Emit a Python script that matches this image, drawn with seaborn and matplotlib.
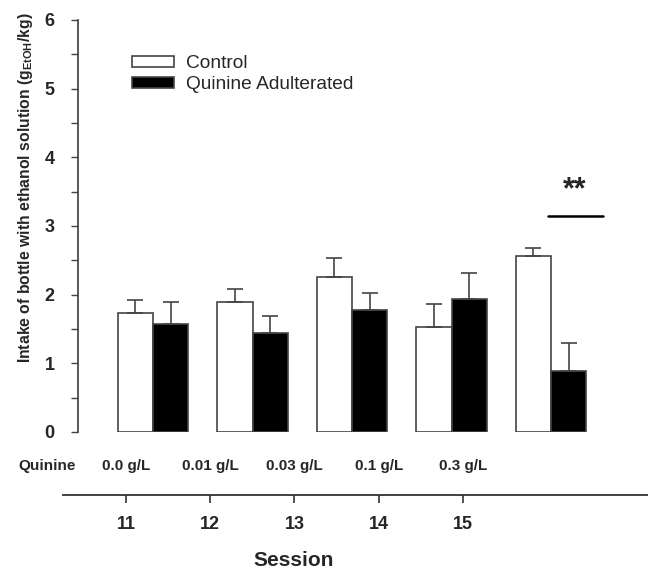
"""Ethanol intake across quinine sessions: control vs quinine adulterated."""

import matplotlib
matplotlib.use("Agg")
import matplotlib.pyplot as plt
import matplotlib.transforms as mtransforms
import seaborn as sns
import pandas as pd
import numpy as np

sessions = [11, 12, 13, 14, 15]
quinine_labels = ["0.0 g/L", "0.01 g/L", "0.03 g/L", "0.1 g/L", "0.3 g/L"]
groups = ["Control", "Quinine Adulterated"]
control_mean = [1.73, 1.90, 2.26, 1.53, 2.56]
control_sem = [0.19, 0.18, 0.28, 0.34, 0.12]
quinine_mean = [1.57, 1.44, 1.78, 1.94, 0.89]
quinine_sem = [0.32, 0.25, 0.24, 0.37, 0.41]

sns.set_theme(style="ticks")
plt.rcParams["font.family"] = ["Liberation Sans", "DejaVu Sans"]
plt.rcParams["mathtext.fontset"] = "custom"
plt.rcParams["mathtext.bf"] = "Liberation Sans:bold"
plt.rcParams["mathtext.rm"] = "Liberation Sans"

df = pd.DataFrame({
    "session": [str(s) for s in sessions] * 2,
    "group": [groups[0]] * 5 + [groups[1]] * 5,
    "mean": control_mean + quinine_mean,
    "sem": control_sem + quinine_sem,
})

fig = plt.figure(figsize=(6.48, 5.68), dpi=100)
ax = fig.add_axes([78 / 648, 1 - 432 / 568, 552 / 648, 412 / 568])

sns.barplot(
    data=df, x="session", y="mean", hue="group", ax=ax,
    palette=["white", "black"], width=0.71, errorbar=None,
    edgecolor="#444444", linewidth=1.2, saturation=1,
)

# one-sided (upper) SEM bars
for container, sem in zip(ax.containers, [control_sem, quinine_sem]):
    for bar, err in zip(container, sem):
        x = bar.get_x() + bar.get_width() / 2
        h = bar.get_height()
        ax.errorbar(x, h, yerr=[[0], [err]], fmt="none", ecolor="#444444",
                    elinewidth=1.2, capsize=6, capthick=1.2)

ax.set_xlim(-0.754, 4.794)
ax.set_ylim(0, 6)
ax.set_yticks(range(7))
ax.set_yticks(np.arange(0.5, 6, 1), minor=True)
ax.tick_params(axis="y", which="both", direction="out", length=5, width=1,
               color="#444444", labelsize=13, pad=12)
for lbl in ax.get_yticklabels():
    lbl.set_fontweight("bold")
ax.set_xticks([])
ax.set_xlabel("")
ax.set_ylabel(r"Intake of bottle with ethanol solution (g$_{\mathbf{EtOH}}$/kg)",
              fontsize=11.3, fontweight="bold")
ax.yaxis.set_label_coords(-0.078, 0.592)
for side in ["top", "right", "bottom"]:
    ax.spines[side].set_visible(False)
ax.spines["left"].set_color("#444444")

# significance marker
ax.plot([3.97, 4.52], [3.15, 3.15], color="black", lw=1.8)
ax.text(4.24, 3.3, "**", ha="center", va="bottom", fontsize=22, fontweight="bold")

ax.legend(loc="upper left", bbox_to_anchor=(0.098, 0.915), frameon=False,
          fontsize=13.8, handlelength=2.2, handleheight=0.5, labelspacing=0.2,
          handletextpad=0.6, borderpad=0, borderaxespad=0)

# session axis with quinine concentrations
ax2 = fig.add_axes([63 / 648, 1 - 495 / 568, 585 / 648, 0.001])
ax2.set_xlim(10.252, 17.197)
ax2.set_xticks(sessions)
ax2.set_xticklabels([str(s) for s in sessions], fontsize=13, fontweight="bold")
ax2.set_yticks([])
ax2.tick_params(axis="x", direction="out", length=6, width=1.2, pad=9,
                color="#333333")
for side in ["top", "right", "left"]:
    ax2.spines[side].set_visible(False)
ax2.spines["bottom"].set_linewidth(1.3)
ax2.spines["bottom"].set_color("#333333")
ax2.patch.set_visible(False)
fig.text(294 / 648, 1 - 560 / 568, "Session", ha="center", va="center",
         fontsize=15, fontweight="bold")

fig.text(47 / 648, 1 - 466 / 568, "Quinine", ha="center", va="center",
         fontsize=11, fontweight="bold")
blend = mtransforms.blended_transform_factory(ax2.transData, fig.transFigure)
for s, lab in zip(sessions, quinine_labels):
    ax2.text(s, 1 - 466 / 568, lab, transform=blend,
             ha="center", va="center", fontsize=11, fontweight="bold")

fig.savefig("out.png", dpi=100)
